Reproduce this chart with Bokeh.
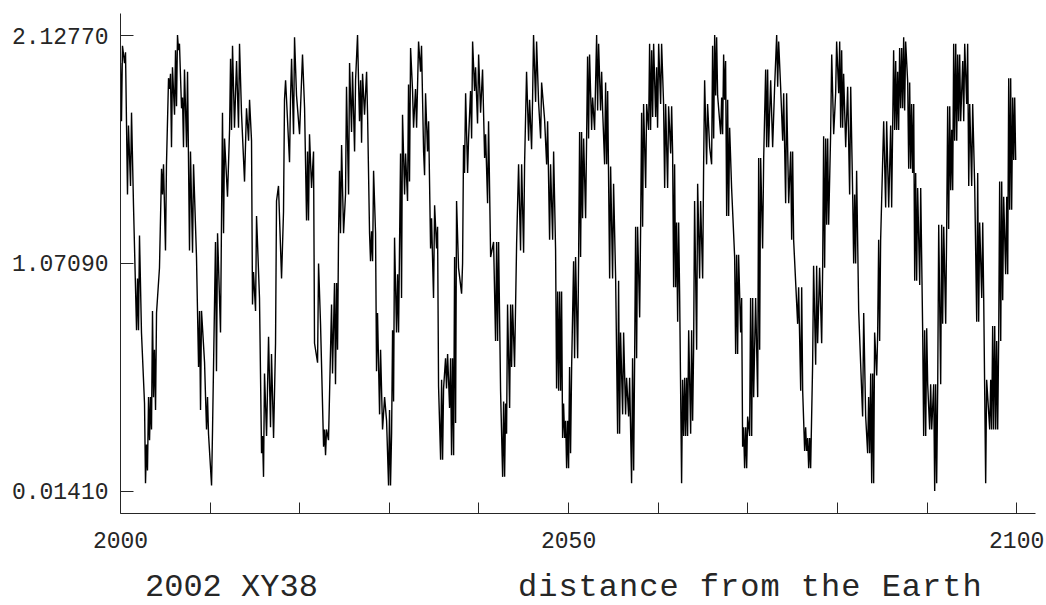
from bokeh.plotting import figure
from bokeh.models import Range1d, FixedTicker, Div
from bokeh.layouts import column
from bokeh.embed import file_html
from bokeh.resources import INLINE

# ---- data (turning points of the curve) ----
years = [
    2000.00, 2000.11, 2000.22, 2000.45, 2000.56, 2000.78, 2000.89, 2001.12, 2001.23, 2001.45,
    2001.79, 2001.90, 2002.01, 2002.12, 2002.34, 2002.68, 2002.79, 2002.90, 2003.01, 2003.13,
    2003.24, 2003.35, 2003.46, 2003.57, 2003.68, 2003.79, 2003.91, 2004.02, 2004.35, 2004.58,
    2004.69, 2004.80, 2005.02, 2005.13, 2005.36, 2005.47, 2005.58, 2005.69, 2005.80, 2006.03,
    2006.14, 2006.25, 2006.36, 2006.47, 2006.58, 2006.81, 2006.92, 2007.03, 2007.14, 2007.37,
    2007.48, 2007.70, 2007.81, 2008.04, 2008.15, 2008.48, 2008.71, 2008.82, 2008.93, 2009.04,
    2009.38, 2009.49, 2009.60, 2009.71, 2009.82, 2010.16, 2010.27, 2010.38, 2010.60, 2010.71,
    2010.83, 2011.16, 2011.38, 2011.50, 2011.61, 2011.94, 2012.17, 2012.28, 2012.39, 2012.50,
    2012.72, 2012.95, 2013.17, 2013.28, 2013.50, 2013.84, 2014.06, 2014.29, 2014.40, 2014.62,
    2014.73, 2014.84, 2015.07, 2015.18, 2015.51, 2015.74, 2015.85, 2015.96, 2016.07, 2016.30,
    2016.52, 2016.74, 2016.85, 2017.08, 2017.30, 2017.41, 2017.63, 2017.97, 2018.19, 2018.30,
    2018.42, 2018.53, 2018.86, 2018.97, 2019.09, 2019.31, 2019.42, 2019.64, 2019.98, 2020.31,
    2020.54, 2020.76, 2020.87, 2020.98, 2021.09, 2021.32, 2021.54, 2021.65, 2021.99, 2022.10,
    2022.32, 2022.66, 2022.77, 2022.88, 2022.99, 2023.21, 2023.55, 2023.66, 2023.88, 2023.99,
    2024.11, 2024.22, 2024.33, 2024.44, 2024.55, 2024.67, 2024.89, 2025.11, 2025.22, 2025.45,
    2025.56, 2025.78, 2025.89, 2026.12, 2026.23, 2026.45, 2026.56, 2026.67, 2026.79, 2026.90,
    2027.01, 2027.23, 2027.46, 2027.57, 2027.79, 2027.90, 2028.01, 2028.13, 2028.24, 2028.46,
    2028.57, 2028.68, 2028.91, 2029.02, 2029.24, 2029.47, 2029.69, 2029.91, 2030.02, 2030.13,
    2030.25, 2030.36, 2030.47, 2030.58, 2030.80, 2030.92, 2031.03, 2031.25, 2031.36, 2031.47,
    2031.70, 2031.81, 2032.03, 2032.14, 2032.25, 2032.37, 2032.59, 2032.70, 2032.92, 2033.04,
    2033.26, 2033.48, 2033.59, 2033.82, 2033.93, 2034.04, 2034.26, 2034.38, 2034.60, 2034.71,
    2034.93, 2035.05, 2035.27, 2035.38, 2035.49, 2035.72, 2035.83, 2035.94, 2036.05, 2036.27,
    2036.38, 2036.50, 2036.72, 2036.83, 2036.94, 2037.05, 2037.17, 2037.28, 2037.39, 2037.50,
    2037.72, 2038.06, 2038.17, 2038.28, 2038.39, 2038.51, 2038.73, 2038.84, 2039.06, 2039.18,
    2039.29, 2039.51, 2039.62, 2039.84, 2039.96, 2040.18, 2040.40, 2040.63, 2040.74, 2040.96,
    2041.07, 2041.30, 2041.63, 2041.85, 2041.97, 2042.08, 2042.19, 2042.41, 2042.64, 2042.75,
    2042.86, 2042.97, 2043.08, 2043.19, 2043.42, 2043.53, 2043.64, 2043.75, 2043.97, 2044.20,
    2044.42, 2044.64, 2044.76, 2044.98, 2045.09, 2045.31, 2045.54, 2045.65, 2045.87, 2045.98,
    2046.09, 2046.32, 2046.43, 2046.65, 2046.88, 2046.99, 2047.32, 2047.55, 2047.66, 2047.88,
    2047.99, 2048.22, 2048.33, 2048.55, 2048.66, 2048.78, 2048.89, 2049.00, 2049.11, 2049.22,
    2049.33, 2049.44, 2049.56, 2049.67, 2049.78, 2049.89, 2050.00, 2050.11, 2050.22, 2050.34,
    2050.56, 2050.67, 2050.78, 2051.01, 2051.12, 2051.23, 2051.34, 2051.45, 2051.56, 2051.68,
    2051.90, 2052.01, 2052.12, 2052.23, 2052.34, 2052.57, 2052.68, 2052.90, 2053.13, 2053.24,
    2053.35, 2053.57, 2053.69, 2053.80, 2054.02, 2054.13, 2054.25, 2054.36, 2054.58, 2054.69,
    2054.91, 2055.02, 2055.25, 2055.47, 2055.58, 2055.69, 2055.80, 2056.03, 2056.14, 2056.36,
    2056.47, 2056.70, 2056.81, 2057.03, 2057.14, 2057.26, 2057.37, 2057.48, 2057.59, 2057.70,
    2057.93, 2058.04, 2058.15, 2058.26, 2058.37, 2058.60, 2058.71, 2058.93, 2059.04, 2059.15,
    2059.27, 2059.38, 2059.49, 2059.71, 2059.82, 2059.93, 2060.05, 2060.27, 2060.38, 2060.60,
    2060.72, 2060.83, 2061.05, 2061.16, 2061.39, 2061.50, 2061.61, 2061.72, 2061.83, 2061.94,
    2062.05, 2062.17, 2062.28, 2062.39, 2062.61, 2062.72, 2062.84, 2062.95, 2063.06, 2063.17,
    2063.28, 2063.40, 2063.62, 2063.73, 2063.84, 2063.95, 2064.06, 2064.29, 2064.40, 2064.62,
    2064.73, 2064.96, 2065.07, 2065.18, 2065.40, 2065.51, 2065.74, 2065.96, 2066.07, 2066.19,
    2066.30, 2066.41, 2066.52, 2066.63, 2066.97, 2067.08, 2067.19, 2067.30, 2067.41, 2067.52,
    2067.64, 2067.75, 2067.86, 2067.97, 2068.19, 2068.53, 2068.64, 2068.75, 2068.86, 2068.97,
    2069.20, 2069.31, 2069.42, 2069.53, 2069.64, 2069.76, 2069.87, 2069.98, 2070.20, 2070.31,
    2070.43, 2070.54, 2070.65, 2070.87, 2071.10, 2071.21, 2071.32, 2071.43, 2071.65, 2071.77,
    2071.99, 2072.10, 2072.21, 2072.32, 2072.55, 2072.77, 2072.99, 2073.22, 2073.33, 2073.44,
    2073.66, 2073.89, 2074.00, 2074.22, 2074.33, 2074.56, 2074.78, 2074.89, 2075.00, 2075.11,
    2075.56, 2075.67, 2075.90, 2076.01, 2076.12, 2076.34, 2076.45, 2076.56, 2076.68, 2076.79,
    2076.90, 2077.01, 2077.23, 2077.34, 2077.57, 2077.68, 2077.79, 2078.01, 2078.24, 2078.35,
    2078.46, 2078.57, 2078.69, 2078.80, 2078.91, 2079.02, 2079.24, 2079.36, 2079.58, 2079.80,
    2079.91, 2080.14, 2080.25, 2080.36, 2080.47, 2080.58, 2080.69, 2080.92, 2081.14, 2081.36,
    2081.48, 2081.70, 2081.81, 2081.92, 2082.03, 2082.14, 2082.37, 2082.81, 2082.93, 2083.15,
    2083.37, 2083.48, 2083.60, 2083.71, 2083.82, 2083.93, 2084.04, 2084.15, 2084.38, 2084.49,
    2084.60, 2084.71, 2084.82, 2085.16, 2085.38, 2085.49, 2085.72, 2085.94, 2086.05, 2086.27,
    2086.39, 2086.50, 2086.61, 2086.72, 2086.83, 2086.94, 2087.06, 2087.17, 2087.28, 2087.39,
    2087.50, 2087.61, 2087.84, 2087.95, 2088.06, 2088.17, 2088.28, 2088.39, 2088.51, 2088.62,
    2088.73, 2088.84, 2088.95, 2089.18, 2089.29, 2089.51, 2089.62, 2089.73, 2089.85, 2089.96,
    2090.07, 2090.29, 2090.40, 2090.52, 2090.74, 2090.85, 2090.96, 2091.07, 2091.19, 2091.30,
    2091.52, 2091.63, 2091.74, 2091.86, 2092.08, 2092.19, 2092.30, 2092.41, 2092.53, 2092.64,
    2092.75, 2092.86, 2092.97, 2093.08, 2093.20, 2093.31, 2093.42, 2093.53, 2093.64, 2093.75,
    2093.98, 2094.09, 2094.20, 2094.42, 2094.53, 2094.65, 2094.76, 2094.98, 2095.09, 2095.32,
    2095.54, 2095.65, 2095.76, 2095.87, 2096.10, 2096.21, 2096.32, 2096.54, 2096.65, 2096.99,
    2097.10, 2097.21, 2097.32, 2097.43, 2097.55, 2097.66, 2097.77, 2097.88, 2097.99, 2098.10,
    2098.22, 2098.33, 2098.44, 2098.55, 2098.77, 2098.89, 2099.00, 2099.11, 2099.22, 2099.33,
    2099.44, 2099.56, 2099.67, 2099.78, 2099.89,
]

distance = [
    2.00, 1.73, 2.08, 2.00, 2.05, 1.39, 1.71, 1.43, 1.77, 1.34,
    0.76, 1.00, 0.76, 1.20, 0.75, 0.42, 0.05, 0.23, 0.11, 0.45,
    0.25, 0.45, 0.30, 0.85, 0.45, 0.67, 0.39, 0.84, 1.05, 1.51,
    1.39, 1.53, 1.13, 1.53, 1.93, 1.88, 1.95, 1.61, 1.98, 1.76,
    2.06, 1.80, 2.13, 2.06, 2.09, 1.79, 1.84, 1.61, 1.97, 1.61,
    1.96, 1.13, 1.59, 1.12, 1.53, 1.10, 0.59, 0.85, 0.39, 0.85,
    0.61, 0.45, 0.30, 0.45, 0.28, 0.04, 0.30, 0.59, 1.17, 0.57,
    1.21, 0.75, 1.77, 1.21, 1.65, 1.38, 1.69, 2.02, 1.69, 2.08,
    1.70, 2.01, 1.70, 2.09, 1.77, 1.45, 1.79, 1.64, 1.83, 1.64,
    0.88, 1.03, 0.85, 1.29, 0.91, 0.19, 0.27, 0.08, 0.56, 0.27,
    0.73, 0.31, 0.65, 0.26, 0.70, 1.36, 1.43, 1.00, 1.31, 1.83,
    1.92, 1.83, 1.54, 1.83, 2.02, 1.67, 2.12, 1.85, 1.67, 2.04,
    1.79, 1.27, 1.59, 1.27, 1.67, 1.42, 1.59, 0.70, 0.61, 1.07,
    0.79, 0.22, 0.30, 0.18, 0.30, 0.25, 0.88, 0.56, 0.98, 0.51,
    0.98, 0.67, 1.20, 1.50, 1.21, 1.62, 1.21, 1.39, 1.89, 1.39,
    2.00, 1.68, 1.96, 1.59, 1.92, 2.13, 1.92, 1.73, 1.92, 1.63,
    1.95, 1.76, 1.96, 1.76, 1.21, 1.08, 1.22, 1.08, 1.50, 1.21,
    0.57, 0.84, 0.37, 0.67, 0.30, 0.45, 0.34, 0.04, 0.39, 0.04,
    0.28, 0.76, 0.43, 1.19, 0.75, 1.02, 0.75, 1.58, 0.91, 1.76,
    1.39, 1.58, 1.36, 1.90, 1.45, 2.07, 1.87, 1.70, 1.88, 1.70,
    2.10, 1.96, 2.08, 1.59, 1.48, 1.86, 1.59, 1.73, 1.14, 1.28,
    0.91, 1.34, 1.14, 1.24, 0.50, 0.16, 0.53, 0.16, 0.49, 0.63,
    0.49, 0.65, 0.40, 0.63, 0.18, 0.63, 0.18, 1.10, 0.33, 1.36,
    1.05, 0.93, 1.07, 1.62, 1.49, 1.86, 1.49, 1.65, 1.87, 1.65,
    2.10, 1.87, 1.98, 1.72, 2.04, 1.77, 1.97, 1.56, 1.67, 1.35,
    1.73, 1.10, 1.17, 0.71, 1.17, 0.71, 1.17, 0.48, 0.08, 0.43,
    0.08, 0.42, 0.28, 0.88, 0.40, 0.88, 0.59, 0.88, 0.59, 1.16,
    1.53, 1.13, 1.53, 1.12, 1.53, 1.96, 1.64, 1.83, 1.60, 1.83,
    2.13, 1.82, 2.10, 1.82, 1.65, 1.91, 1.74, 1.53, 1.73, 1.18,
    1.53, 1.18, 1.59, 1.13, 0.49, 0.94, 0.48, 0.94, 0.48, 0.94,
    0.26, 0.42, 0.26, 0.34, 0.12, 0.34, 0.12, 0.59, 0.19, 0.59,
    1.08, 0.63, 1.10, 0.63, 1.10, 1.68, 1.10, 1.68, 1.28, 1.65,
    1.28, 1.65, 2.03, 1.65, 2.04, 1.69, 1.84, 1.69, 2.13, 1.78,
    2.09, 1.78, 1.96, 1.78, 1.53, 1.91, 1.53, 1.87, 1.00, 1.52,
    1.00, 1.44, 1.00, 0.28, 0.99, 0.28, 0.75, 0.37, 0.75, 0.37,
    0.54, 0.36, 0.54, 0.05, 0.63, 0.11, 0.63, 1.24, 0.63, 1.24,
    0.82, 1.24, 1.77, 1.24, 1.81, 1.42, 1.81, 1.69, 2.09, 1.69,
    2.06, 1.75, 2.09, 1.75, 1.98, 1.70, 2.09, 1.81, 2.09, 1.81,
    1.42, 1.81, 1.42, 1.80, 1.58, 1.80, 1.58, 0.96, 1.53, 0.96,
    1.26, 0.80, 1.26, 0.93, 0.05, 0.53, 0.27, 0.54, 0.27, 0.54,
    0.27, 0.76, 0.28, 0.76, 0.34, 0.67, 1.36, 0.67, 1.44, 1.00,
    1.36, 1.00, 1.53, 1.92, 1.53, 1.81, 1.61, 1.53, 2.08, 1.65,
    2.13, 1.85, 2.12, 1.85, 1.67, 1.84, 1.67, 2.04, 1.83, 2.01,
    1.29, 1.83, 1.29, 1.70, 1.42, 1.10, 0.65, 1.11, 0.65, 1.11,
    0.75, 0.91, 0.22, 0.31, 0.12, 0.31, 0.12, 0.36, 0.27, 0.91,
    0.27, 0.91, 0.45, 0.91, 0.45, 1.56, 0.67, 1.56, 1.14, 1.56,
    1.97, 1.61, 1.97, 1.61, 1.92, 1.61, 1.89, 2.13, 1.89, 2.10,
    1.89, 1.64, 1.86, 1.35, 1.86, 1.35, 1.59, 1.18, 1.59, 1.18,
    0.79, 0.96, 0.48, 0.96, 0.48, 0.20, 0.31, 0.20, 0.26, 0.12,
    0.26, 0.12, 0.60, 1.06, 0.60, 1.06, 0.70, 1.05, 0.70, 1.05,
    1.66, 1.05, 1.65, 1.25, 1.65, 1.25, 1.67, 2.04, 1.67, 1.86,
    2.10, 1.86, 2.10, 1.70, 2.06, 1.70, 1.95, 1.61, 1.89, 1.39,
    1.89, 1.39, 1.07, 1.39, 1.07, 1.50, 0.85, 0.36, 0.84, 0.36,
    0.19, 0.45, 0.19, 0.56, 0.05, 0.56, 0.05, 0.75, 0.55, 0.75,
    1.18, 0.71, 1.18, 1.73, 1.33, 1.73, 1.33, 1.71, 1.33, 2.06,
    1.69, 2.01, 1.69, 1.96, 1.69, 2.07, 1.79, 2.07, 1.79, 2.12,
    1.78, 2.10, 1.91, 1.51, 1.91, 1.51, 1.81, 1.49, 1.81, 0.99,
    1.49, 0.99, 1.42, 0.97, 1.42, 0.76, 0.27, 0.76, 0.27, 0.77,
    0.51, 0.30, 0.51, 0.30, 0.51, 0.0141, 0.51, 0.05, 0.51, 1.25,
    0.51, 1.25, 0.79, 1.24, 0.79, 1.24, 1.80, 1.23, 1.80, 1.41,
    1.69, 1.41, 2.09, 1.64, 2.09, 1.64, 2.04, 1.73, 2.04, 1.73,
    2.01, 1.73, 2.09, 1.81, 2.09, 1.43, 1.81, 1.43, 1.81, 1.42,
    0.80, 1.49, 0.80, 1.26, 0.91, 1.26, 0.91, 0.05, 0.53, 0.30,
    0.53, 0.30, 0.78, 0.30, 0.78, 0.30, 0.71, 0.30, 0.71, 1.45,
    0.71, 1.45, 0.90, 1.38, 1.02, 1.38, 1.02, 1.93, 1.32, 1.93,
    1.32, 1.84, 1.55, 1.84, 1.55,
]

x_ticks = [2000, 2010, 2020, 2030, 2040, 2050, 2060, 2070, 2080, 2090, 2100]
x_tick_labels = {2000: "2000", 2050: "2050", 2100: "2100"}
y_ticks = [0.0141, 1.0709, 2.1277]
y_tick_labels = ["0.01410", "1.07090", "2.12770"]
object_name = "2002 XY38"
quantity_name = "distance from the Earth"

FONT = "Liberation Mono"
INK = "#262626"

# ---- main chart ----
p = figure(
    width=1046, height=560,
    x_range=Range1d(2000, 2102.1), y_range=Range1d(-0.090, 2.230),
    output_backend="svg", toolbar_location=None,
    min_border_left=120, min_border_right=11, min_border_top=13, min_border_bottom=47,
)
p.outline_line_color = None
p.grid.visible = False
p.background_fill_color = "white"
p.border_fill_color = "white"

p.line(years, distance, line_color="black", line_width=1.4)

p.xaxis.ticker = FixedTicker(ticks=x_ticks)
p.xaxis.major_label_overrides = {t: x_tick_labels.get(t, "") for t in x_ticks}
p.xaxis.major_tick_in = 11
p.xaxis.major_tick_out = 0
p.xaxis.minor_tick_in = 0
p.xaxis.minor_tick_out = 0
p.xaxis.major_label_standoff = 18

p.yaxis.ticker = FixedTicker(ticks=y_ticks)
p.yaxis.major_label_overrides = dict(zip(y_ticks, y_tick_labels))
p.yaxis.major_tick_in = 13
p.yaxis.major_tick_out = 0
p.yaxis.minor_tick_in = 0
p.yaxis.minor_tick_out = 0
p.yaxis.major_label_standoff = 12

for ax in (p.xaxis, p.yaxis):
    ax.axis_line_color = INK
    ax.major_tick_line_color = INK
    ax.major_label_text_font = FONT
    ax.major_label_text_font_size = "23px"
    ax.major_label_text_color = INK

# ---- caption line below the chart ----
span_style = "position:absolute;top:12px;height:32px;white-space:nowrap;line-height:32px;"
caption_html = (
    '<div style="position:relative;width:1046px;height:45px;">'
    f'<span style="{span_style}left:145px;">{object_name}</span>'
    f'<span style="{span_style}left:518px;letter-spacing:1px;">{quantity_name}</span>'
    '</div>'
)
caption = Div(
    text=caption_html, width=1046, height=45, margin=(0, 0, 0, 0),
    styles={"font-family": "'Liberation Mono', monospace", "font-size": "32px",
            "color": INK},
)

layout = column(p, caption, spacing=0)
open("out.html", "w").write(file_html(layout, INLINE))
